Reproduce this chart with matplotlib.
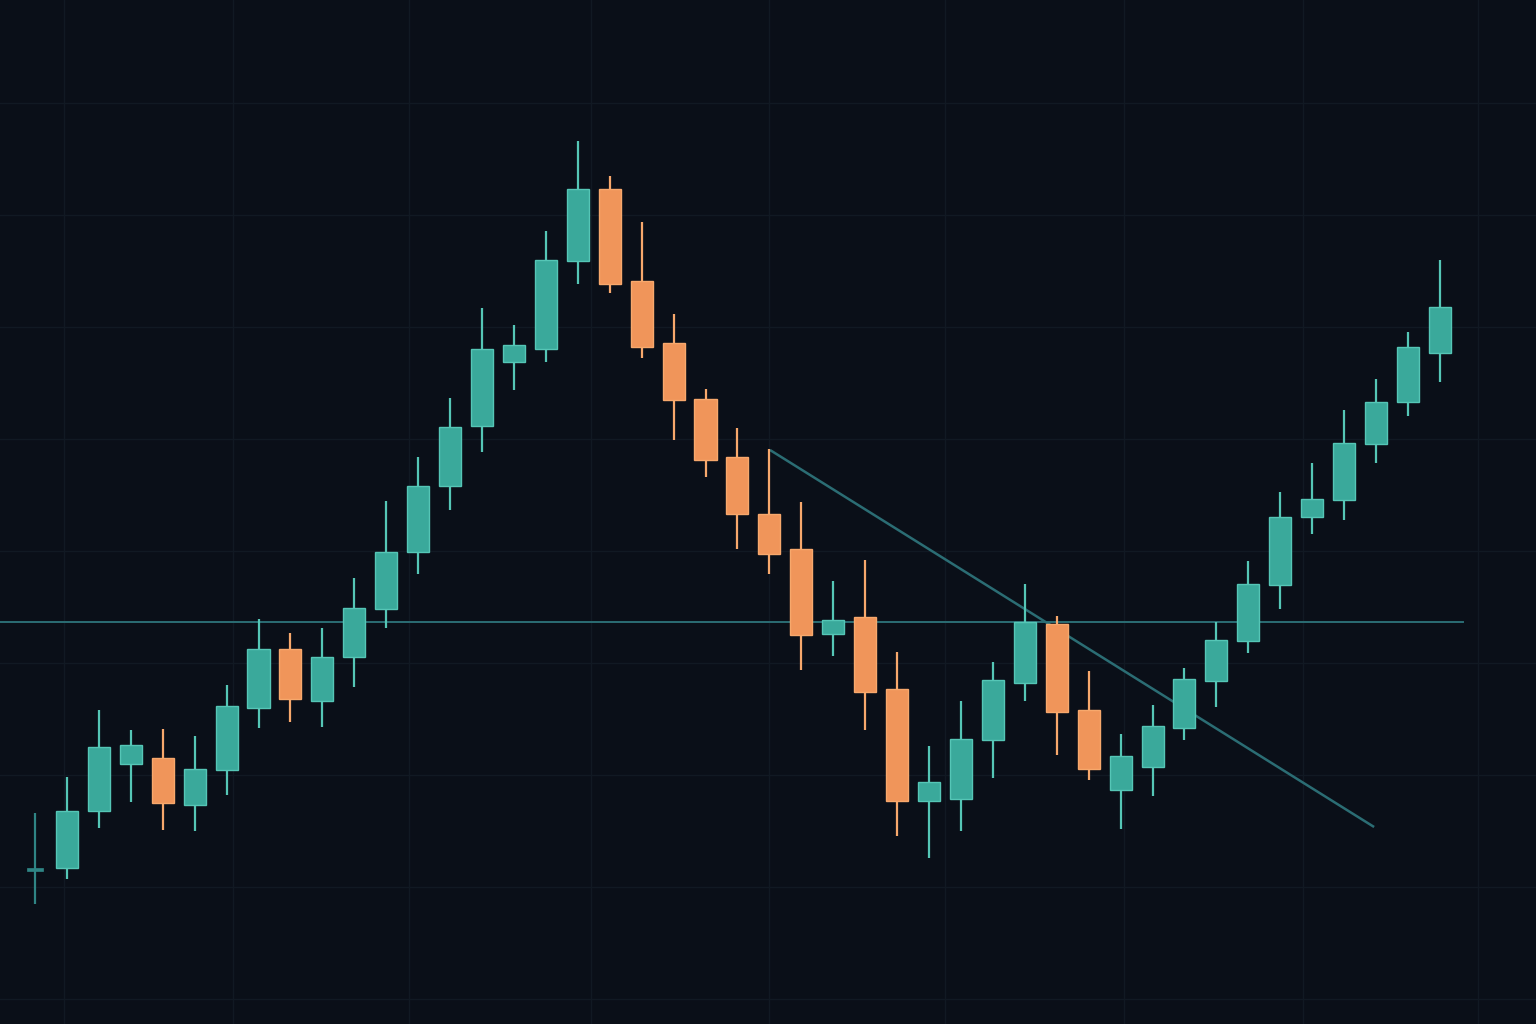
import matplotlib
matplotlib.use("Agg")
import matplotlib.pyplot as plt
import numpy as np

# OHLC values (price units)
opens  = [155, 156, 213, 260, 266, 219, 254, 316, 375, 323, 367, 415, 472, 538, 598,
          662, 675, 763, 835, 743, 681, 625, 567, 510, 475, 390, 407, 335, 223, 225,
          284, 341, 400, 314, 234, 257, 296, 343, 383, 439, 507, 524, 580, 622, 671]
highs  = [211, 247, 314, 294, 295, 288, 339, 405, 391, 396, 446, 523, 567, 626, 716,
          699, 793, 883, 848, 802, 710, 635, 596, 575, 522, 443, 464, 372, 278, 323,
          362, 440, 408, 353, 290, 319, 356, 402, 463, 532, 561, 614, 645, 692, 764]
lows   = [120, 145, 196, 222, 194, 193, 229, 296, 302, 297, 337, 396, 450, 514, 572,
          634, 662, 740, 731, 666, 584, 547, 475, 450, 354, 368, 294, 188, 166, 193,
          246, 323, 269, 244, 195, 228, 284, 317, 371, 415, 490, 504, 561, 608, 642]
closes = [155, 213, 277, 279, 221, 255, 318, 375, 325, 367, 416, 472, 538, 597, 675,
          679, 764, 835, 740, 677, 624, 564, 510, 470, 389, 404, 332, 223, 242, 285,
          344, 402, 312, 255, 268, 298, 345, 384, 440, 507, 525, 581, 622, 677, 717]

# reference lines
level_price = 402
trend_x = [23.02, 41.94]
trend_y = [574, 197]

BG = "#0a0f18"
UP = "#3aa99b"
UP_EDGE = "#55c6b6"
DOWN = "#f0955a"
DOWN_EDGE = "#f7a86c"
DOJI = "#2f8585"
LINE = "#2b6d74"
GRID = "#111923"

fig = plt.figure(figsize=(15.36, 10.24), dpi=100, facecolor=BG)
ax = fig.add_axes([0, 0, 1, 1])
ax.set_facecolor(BG)

x = np.arange(len(opens))
o = np.array(opens, float)
c = np.array(closes, float)
h = np.array(highs, float)
l = np.array(lows, float)

# grid
for gx in [0.9, 6.2, 11.7, 17.4, 23.0, 28.5, 34.1, 39.7, 45.2]:
    ax.axvline(gx, color=GRID, lw=1.0, zorder=0)
for gy in np.arange(25, 1000, 112):
    ax.axhline(gy, color=GRID, lw=1.0, zorder=0)

# horizontal level
ax.plot([-1.2, 44.72], [level_price, level_price], color=LINE, lw=1.4, zorder=1)
# trend line
ax.plot(trend_x, trend_y, color=LINE, lw=1.8, zorder=1, solid_capstyle="butt")

width = 0.69
for i in range(len(x)):
    if c[i] == o[i]:
        col, edge = DOJI, DOJI
    elif c[i] > o[i]:
        col, edge = UP, UP_EDGE
    else:
        col, edge = DOWN, DOWN_EDGE
    ax.vlines(x[i], l[i], h[i], color=edge if c[i] != o[i] else DOJI, lw=1.6, zorder=2)
    bottom = min(o[i], c[i])
    height = abs(c[i] - o[i])
    if height < 1:
        ax.bar(x[i], 3, width=0.5, bottom=bottom - 1.5, color=col, edgecolor=col,
               lw=0.5, zorder=3)
    else:
        ax.bar(x[i], height, width=width, bottom=bottom, color=col,
               edgecolor=edge, lw=1.0, zorder=3)

ax.set_xlim(-1.096, 47.01)
ax.set_ylim(0, 1024)
ax.axis("off")

fig.savefig("out.png", dpi=100, facecolor=BG)
